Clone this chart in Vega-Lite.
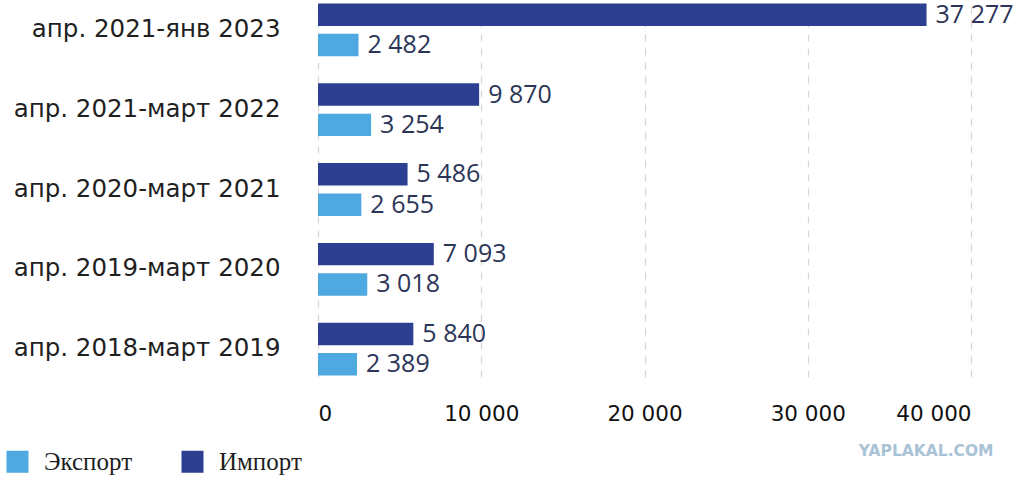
{
  "$schema": "https://vega.github.io/schema/vega-lite/v6.json",
  "autosize": "none",
  "width": 653,
  "height": 375,
  "padding": {"left": 318, "top": 2, "right": 53, "bottom": 101},
  "background": "white",
  "config": {
    "view": {"stroke": null},
    "locale": {"number": {"decimal": ",", "thousands": " ", "grouping": [3], "currency": ["", ""]}}
  },
  "title": {
    "text": "YAPLAKAL.COM",
    "orient": "bottom",
    "anchor": "end",
    "font": "DejaVu Sans",
    "fontWeight": "bold",
    "fontSize": 15.5,
    "color": "#a9c3d6",
    "offset": -31,
    "dx": -20
  },
  "data": {
    "values": [
      {"period": "апр. 2021-янв 2023", "series": "Импорт", "value": 37277},
      {"period": "апр. 2021-янв 2023", "series": "Экспорт", "value": 2482},
      {"period": "апр. 2021-март 2022", "series": "Импорт", "value": 9870},
      {"period": "апр. 2021-март 2022", "series": "Экспорт", "value": 3254},
      {"period": "апр. 2020-март 2021", "series": "Импорт", "value": 5486},
      {"period": "апр. 2020-март 2021", "series": "Экспорт", "value": 2655},
      {"period": "апр. 2019-март 2020", "series": "Импорт", "value": 7093},
      {"period": "апр. 2019-март 2020", "series": "Экспорт", "value": 3018},
      {"period": "апр. 2018-март 2019", "series": "Импорт", "value": 5840},
      {"period": "апр. 2018-март 2019", "series": "Экспорт", "value": 2389}
    ]
  },
  "encoding": {
    "y": {
      "field": "period",
      "type": "nominal",
      "sort": null,
      "scale": {"paddingInner": 0.3, "paddingOuter": 0},
      "axis": {
        "title": null,
        "domain": false,
        "ticks": false,
        "labelPadding": 38,
        "labelFont": "DejaVu Sans",
        "labelFontSize": 24.5,
        "labelColor": "#1f1f1f",
        "labelLimit": 400
      }
    },
    "yOffset": {
      "field": "series",
      "type": "nominal",
      "sort": ["Импорт", "Экспорт"],
      "scale": {"paddingInner": 0.26, "paddingOuter": 0.05}
    },
    "x": {
      "field": "value",
      "type": "quantitative",
      "scale": {"domain": [0, 40000], "nice": false},
      "axis": {
        "title": null,
        "domain": false,
        "ticks": false,
        "values": [0, 10000, 20000, 30000, 40000],
        "format": ",d",
        "grid": true,
        "gridDash": [7, 7],
        "gridColor": "#d6d6d6",
        "gridWidth": 1.2,
        "labelPadding": 26,
        "labelFont": "DejaVu Sans",
        "labelFontSize": 21.5,
        "labelColor": "#111111"
      }
    }
  },
  "layer": [
    {
      "mark": {"type": "bar"},
      "encoding": {
        "color": {
          "field": "series",
          "type": "nominal",
          "sort": ["Экспорт", "Импорт"],
          "scale": {"domain": ["Экспорт", "Импорт"], "range": ["#4ea9e1", "#2c3f90"]},
          "legend": {
            "title": null,
            "orient": "none",
            "direction": "horizontal",
            "legendX": -313,
            "legendY": 447,
            "symbolType": "square",
            "symbolSize": 484,
            "symbolStrokeWidth": 0,
            "labelFont": "Liberation Serif",
            "labelFontSize": 25,
            "labelColor": "#1f1f1f",
            "labelOffset": 14,
            "columnPadding": 47
          }
        }
      }
    },
    {
      "mark": {"type": "text", "align": "left", "baseline": "middle", "dx": 9, "font": "Open Sans", "fontSize": 25, "color": "#2b3558"},
      "encoding": {
        "text": {"field": "value", "type": "quantitative", "format": ",d"}
      }
    }
  ]
}
